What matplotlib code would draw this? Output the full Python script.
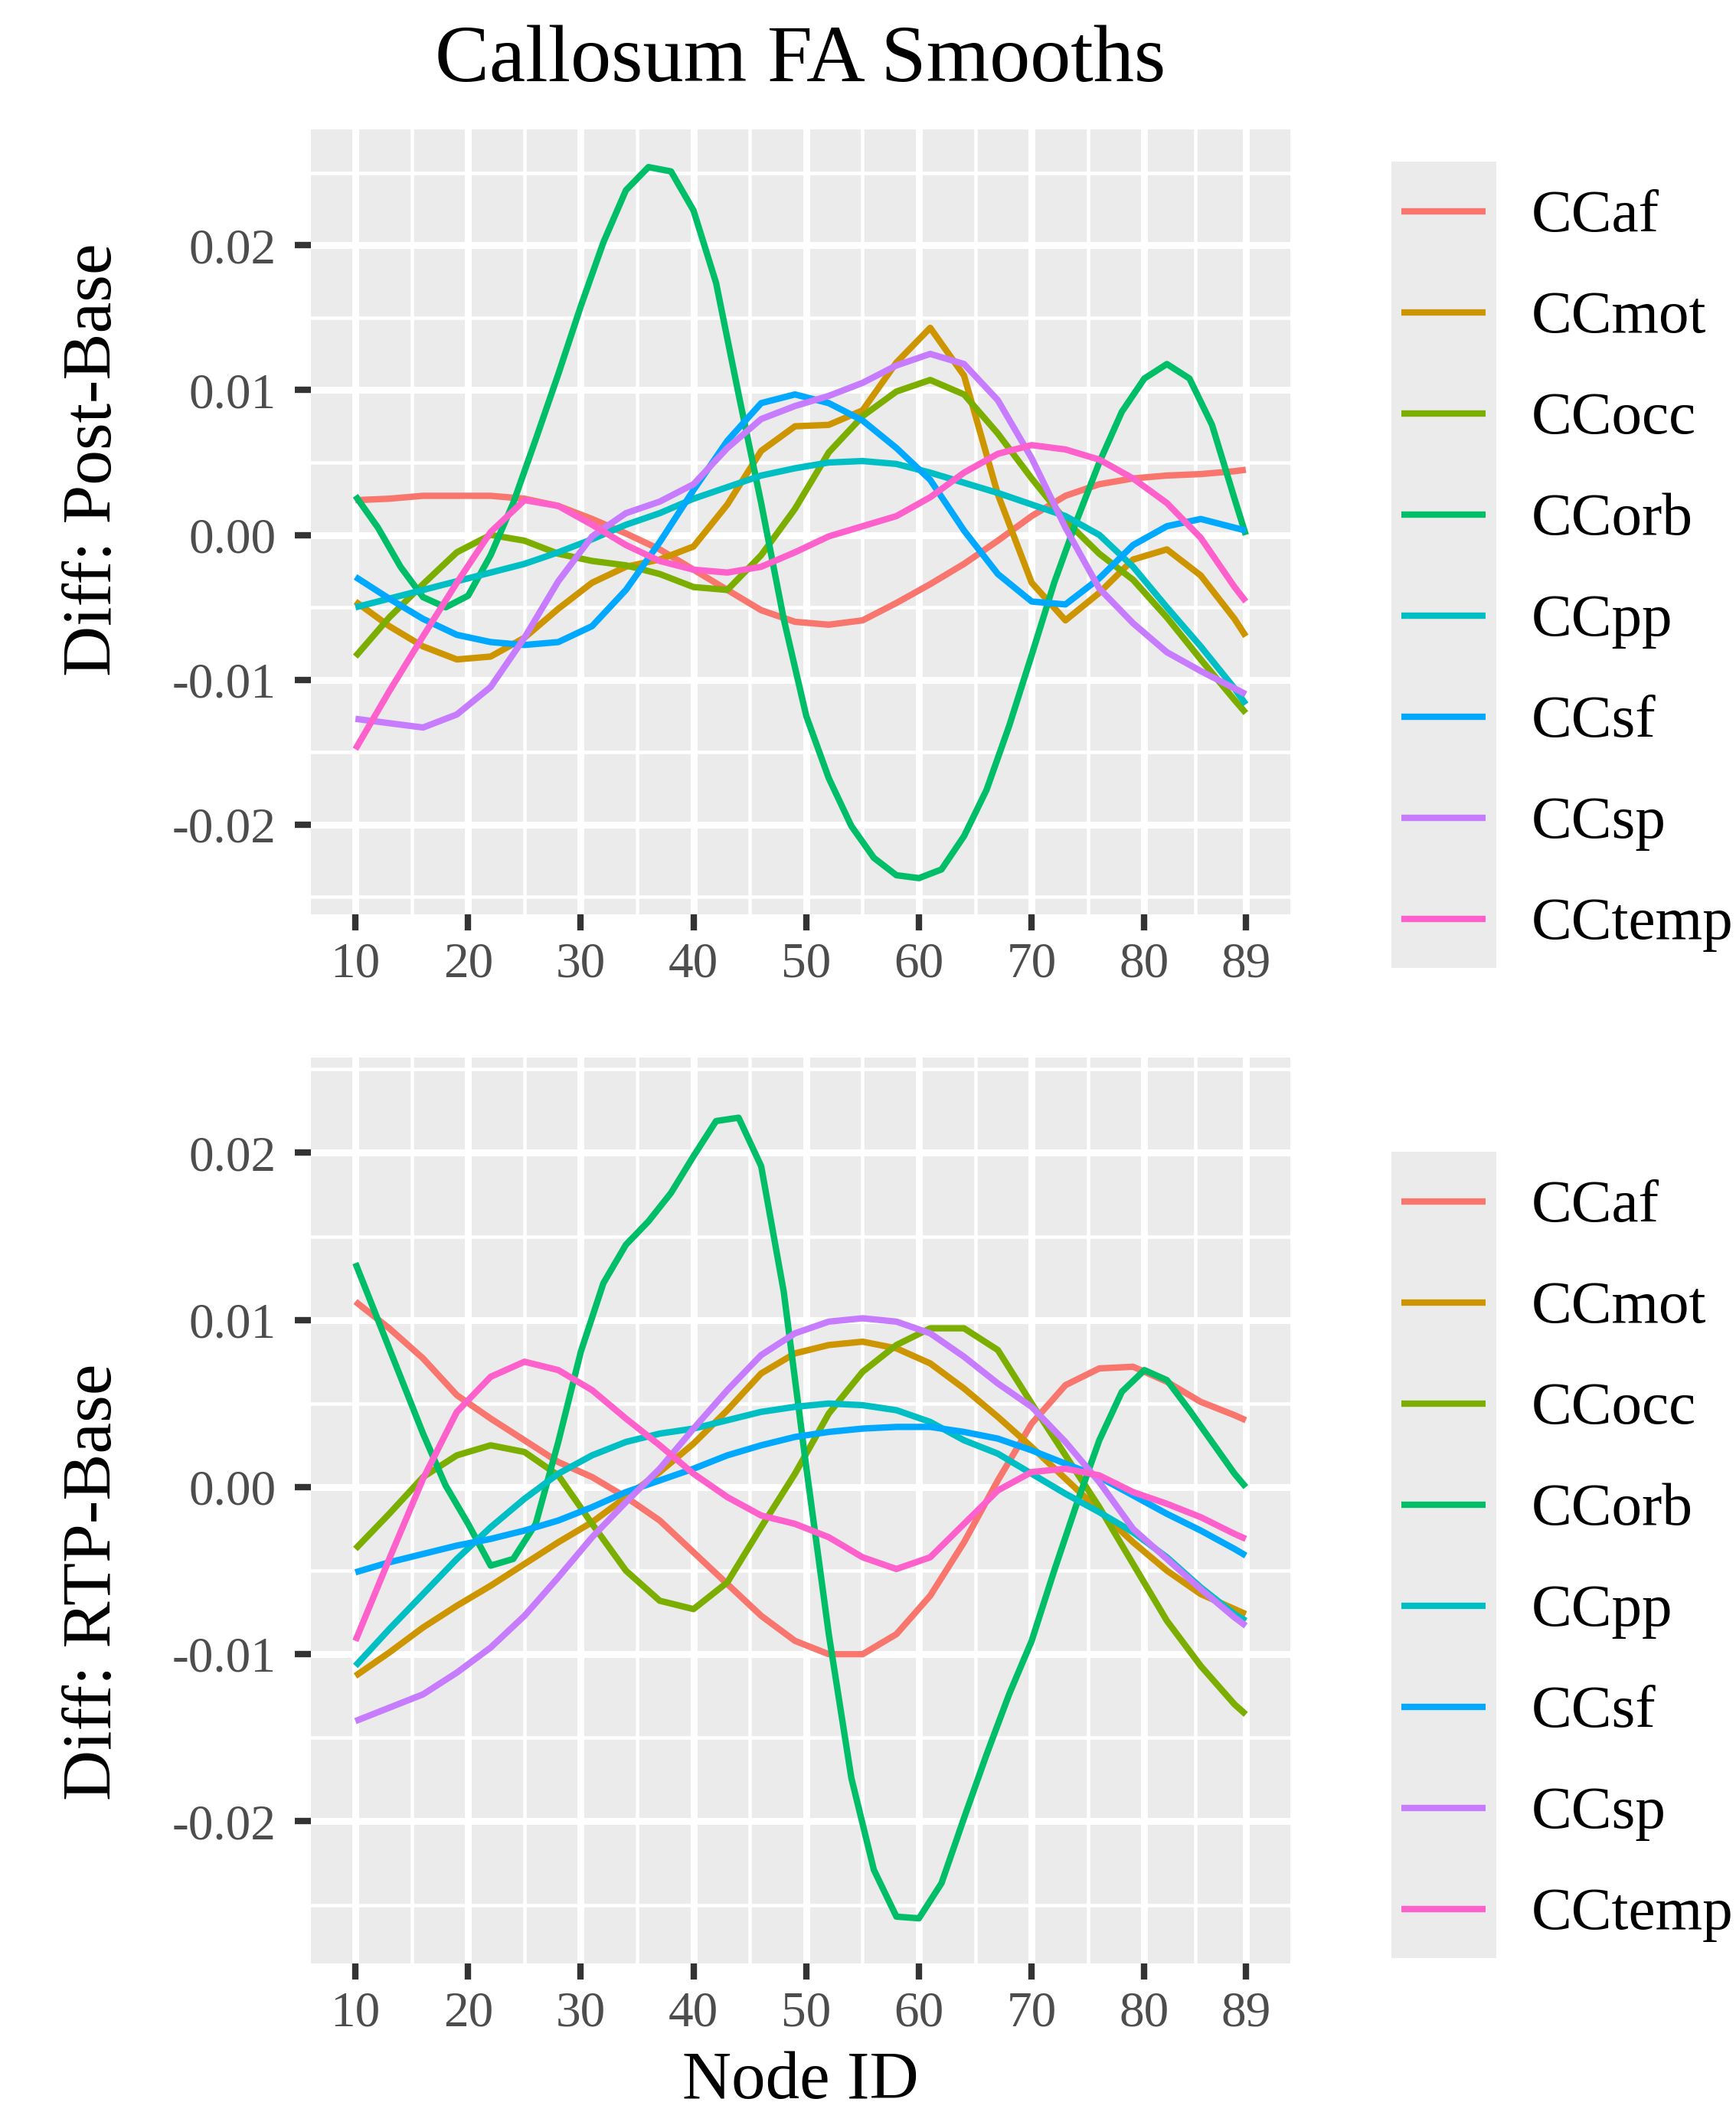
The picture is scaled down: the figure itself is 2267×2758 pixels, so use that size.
import matplotlib
matplotlib.use("Agg")
import matplotlib.pyplot as plt
from matplotlib.lines import Line2D
from matplotlib.patches import Rectangle

plt.rcParams["font.family"] = ["Liberation Serif", "DejaVu Serif"]

# node positions along the tract
nodes = [10, 13, 16, 19, 22, 25, 28, 31, 34, 37, 40, 43, 46, 49,
         52, 55, 58, 61, 64, 67, 70, 73, 76, 79, 82, 85, 88, 89]
orb_nodes = [10, 12, 14, 16, 18, 20, 22, 24, 26, 28, 30, 32, 34, 36, 38, 40, 42, 44, 46, 48,
             50, 52, 54, 56, 58, 60, 62, 64, 66, 68, 70, 72, 74, 76, 78, 80, 82, 84, 86, 88, 89]

tracts = ["CCaf", "CCmot", "CCocc", "CCorb", "CCpp", "CCsf", "CCsp", "CCtemp"]
tract_colors = ["#F8766D", "#CD9600", "#7CAE00", "#00BE67",
                "#00BFC4", "#00A9FF", "#C77CFF", "#FF61CC"]

# Diff: Post-Base
post_ccaf = [0.0024, 0.0025, 0.0027, 0.0027, 0.0027, 0.0025, 0.0020, 0.0011, 0.0001, -0.0010,
             -0.0024, -0.0038, -0.0052, -0.0060, -0.0062, -0.0059, -0.0047, -0.0034, -0.0020, -0.0004,
             0.0013, 0.0027, 0.0035, 0.0039, 0.0041, 0.0042, 0.0044, 0.0045]
post_ccmot = [-0.0046, -0.0063, -0.0077, -0.0086, -0.0084, -0.0071, -0.0051, -0.0033, -0.0022, -0.0017,
              -0.0008, 0.0021, 0.0058, 0.0075, 0.0076, 0.0086, 0.0119, 0.0143, 0.0110, 0.0028,
              -0.0033, -0.0059, -0.0040, -0.0017, -0.0010, -0.0028, -0.0058, -0.0070]
post_ccocc = [-0.0084, -0.0057, -0.0034, -0.0012, 0.0000, -0.0004, -0.0013, -0.0018, -0.0021, -0.0027,
              -0.0036, -0.0038, -0.0014, 0.0018, 0.0057, 0.0082, 0.0099, 0.0107, 0.0097, 0.0070,
              0.0039, 0.0010, -0.0013, -0.0031, -0.0057, -0.0086, -0.0114, -0.0123]
post_ccorb = [0.0027, 0.0005, -0.0022, -0.0043, -0.0050, -0.0042, -0.0014, 0.0022, 0.0066, 0.0111,
              0.0158, 0.0202, 0.0238, 0.0254, 0.0251, 0.0224, 0.0174, 0.0097, 0.0022, -0.0058,
              -0.0125, -0.0168, -0.0201, -0.0223, -0.0235, -0.0237, -0.0231, -0.0208, -0.0176, -0.0132,
              -0.0083, -0.0033, 0.0010, 0.0050, 0.0085, 0.0108, 0.0118, 0.0108, 0.0076, 0.0025, 0.0000]
post_ccpp = [-0.0050, -0.0044, -0.0038, -0.0032, -0.0026, -0.0020, -0.0012, -0.0003, 0.0007, 0.0015,
             0.0025, 0.0033, 0.0041, 0.0046, 0.0050, 0.0051, 0.0049, 0.0043, 0.0036, 0.0029,
             0.0021, 0.0013, 0.0000, -0.0022, -0.0050, -0.0077, -0.0106, -0.0117]
post_ccsf = [-0.0029, -0.0044, -0.0058, -0.0069, -0.0074, -0.0076, -0.0074, -0.0063, -0.0038, -0.0005,
             0.0031, 0.0065, 0.0091, 0.0097, 0.0091, 0.0079, 0.0060, 0.0038, 0.0003, -0.0027,
             -0.0046, -0.0048, -0.0030, -0.0007, 0.0006, 0.0011, 0.0005, 0.0003]
post_ccsp = [-0.0127, -0.0130, -0.0133, -0.0124, -0.0105, -0.0071, -0.0032, -0.0001, 0.0015, 0.0023,
             0.0035, 0.0060, 0.0080, 0.0089, 0.0096, 0.0105, 0.0117, 0.0125, 0.0118, 0.0093,
             0.0053, 0.0005, -0.0037, -0.0061, -0.0081, -0.0094, -0.0106, -0.0110]
post_cctemp = [-0.0148, -0.0108, -0.0070, -0.0033, 0.0002, 0.0024, 0.0020, 0.0007, -0.0007, -0.0018,
               -0.0024, -0.0026, -0.0022, -0.0012, -0.0001, 0.0006, 0.0013, 0.0026, 0.0043, 0.0056,
               0.0062, 0.0059, 0.0052, 0.0039, 0.0022, -0.0002, -0.0036, -0.0046]

# Diff: RTP-Base
rtp_ccaf = [0.0111, 0.0095, 0.0077, 0.0055, 0.0041, 0.0028, 0.0015, 0.0006, -0.0006, -0.0020,
            -0.0039, -0.0058, -0.0077, -0.0092, -0.0100, -0.0100, -0.0088, -0.0065, -0.0033, 0.0004,
            0.0038, 0.0061, 0.0071, 0.0072, 0.0063, 0.0051, 0.0043, 0.0040]
rtp_ccmot = [-0.0113, -0.0099, -0.0084, -0.0071, -0.0059, -0.0046, -0.0033, -0.0021, -0.0006, 0.0009,
             0.0026, 0.0046, 0.0068, 0.0080, 0.0085, 0.0087, 0.0083, 0.0074, 0.0059, 0.0042,
             0.0024, 0.0005, -0.0014, -0.0033, -0.0050, -0.0064, -0.0073, -0.0076]
rtp_ccocc = [-0.0037, -0.0016, 0.0006, 0.0019, 0.0025, 0.0021, 0.0007, -0.0022, -0.0050, -0.0068,
             -0.0073, -0.0057, -0.0024, 0.0008, 0.0044, 0.0069, 0.0085, 0.0095, 0.0095, 0.0082,
             0.0050, 0.0019, -0.0012, -0.0046, -0.0080, -0.0107, -0.0130, -0.0136]
rtp_ccorb = [0.0134, 0.0100, 0.0066, 0.0032, 0.0001, -0.0022, -0.0047, -0.0043, -0.0022, 0.0027,
             0.0081, 0.0122, 0.0145, 0.0159, 0.0176, 0.0198, 0.0219, 0.0221, 0.0192, 0.0117,
             0.0012, -0.0088, -0.0174, -0.0229, -0.0257, -0.0258, -0.0237, -0.0198, -0.0160, -0.0124,
             -0.0092, -0.0050, -0.0010, 0.0028, 0.0057, 0.0070, 0.0064, 0.0046, 0.0027, 0.0008, 0.0000]
rtp_ccpp = [-0.0107, -0.0085, -0.0064, -0.0043, -0.0024, -0.0007, 0.0008, 0.0019, 0.0027, 0.0032,
            0.0035, 0.0040, 0.0045, 0.0048, 0.0050, 0.0049, 0.0046, 0.0039, 0.0028, 0.0020,
            0.0008, -0.0004, -0.0015, -0.0027, -0.0042, -0.0060, -0.0076, -0.0080]
rtp_ccsf = [-0.0051, -0.0045, -0.0040, -0.0035, -0.0031, -0.0026, -0.0020, -0.0012, -0.0003, 0.0004,
            0.0011, 0.0019, 0.0025, 0.0030, 0.0033, 0.0035, 0.0036, 0.0036, 0.0033, 0.0029,
            0.0022, 0.0014, 0.0006, -0.0005, -0.0016, -0.0026, -0.0037, -0.0041]
rtp_ccsp = [-0.0140, -0.0132, -0.0124, -0.0111, -0.0096, -0.0077, -0.0054, -0.0030, -0.0009, 0.0011,
            0.0035, 0.0058, 0.0079, 0.0092, 0.0099, 0.0101, 0.0099, 0.0092, 0.0078, 0.0062,
            0.0048, 0.0027, 0.0003, -0.0025, -0.0043, -0.0061, -0.0078, -0.0083]
rtp_cctemp = [-0.0092, -0.0043, 0.0005, 0.0045, 0.0066, 0.0075, 0.0070, 0.0058, 0.0041, 0.0025,
              0.0008, -0.0006, -0.0017, -0.0022, -0.0030, -0.0042, -0.0049, -0.0042, -0.0022, -0.0002,
              0.0009, 0.0011, 0.0007, -0.0003, -0.0010, -0.0018, -0.0028, -0.0031]

post_series = [post_ccaf, post_ccmot, post_ccocc, post_ccorb,
               post_ccpp, post_ccsf, post_ccsp, post_cctemp]
rtp_series = [rtp_ccaf, rtp_ccmot, rtp_ccocc, rtp_ccorb,
              rtp_ccpp, rtp_ccsf, rtp_ccsp, rtp_cctemp]

x_ticks = [10, 20, 30, 40, 50, 60, 70, 80, 89]
x_tick_labels = ["10", "20", "30", "40", "50", "60", "70", "80", "89"]
x_minor = [15, 25, 35, 45, 55, 65, 75, 84.5]
y_ticks = [-0.02, -0.01, 0.0, 0.01, 0.02]
y_tick_labels = ["-0.02", "-0.01", "0.00", "0.01", "0.02"]
y_minor = [-0.025, -0.015, -0.005, 0.005, 0.015, 0.025]

W, H = 2267, 2758
PANEL_BG = "#EBEBEB"
LINE_W = 6.0


def style_panel(ax, ylim):
    ax.set_facecolor(PANEL_BG)
    for s in ax.spines.values():
        s.set_visible(False)
    ax.set_xlim(6.05, 92.95)
    ax.set_ylim(*ylim)
    ax.set_xticks(x_ticks)
    ax.set_xticklabels(x_tick_labels)
    ax.set_xticks(x_minor, minor=True)
    ax.set_yticks(y_ticks)
    ax.set_yticklabels(y_tick_labels)
    ax.set_yticks(y_minor, minor=True)
    ax.set_axisbelow(True)
    ax.grid(which="major", color="white", linewidth=6.5)
    ax.grid(which="minor", color="white", linewidth=3.3)
    ax.tick_params(which="major", length=15, width=6.0, color="#333333",
                   labelcolor="#4D4D4D", labelsize=47)
    ax.tick_params(axis="x", which="major", pad=11)
    ax.tick_params(axis="y", which="major", pad=18)
    ax.tick_params(which="minor", length=0)


def plot_panel(ax, series):
    for name, vals, col in zip(tracts, series, tract_colors):
        xs = orb_nodes if name == "CCorb" else nodes
        ax.plot(xs, vals, color=col, linewidth=LINE_W,
                solid_capstyle="butt", solid_joinstyle="round")


def draw_legend(fig, box_top_px):
    box_h = 1053
    fig.add_artist(Rectangle((1817 / W, 1 - (box_top_px + box_h) / H),
                             (1954 - 1817) / W, box_h / H,
                             transform=fig.transFigure, facecolor=PANEL_BG,
                             edgecolor="none"))
    fs = 57
    cap_half = 0.662 * fs * 100 / 72 / 2
    for i, (name, col) in enumerate(zip(tracts, tract_colors)):
        ky = box_top_px + 65 + i * 132
        fig.add_artist(Line2D([1830 / W, 1940 / W], [1 - ky / H, 1 - ky / H],
                              transform=fig.transFigure, color=col,
                              linewidth=LINE_W, solid_capstyle="butt"))
        fig.text(2000 / W, 1 - (ky + cap_half) / H, name, fontsize=fs,
                 ha="left", va="baseline", color="black")


fig = plt.figure(figsize=(W / 100, H / 100), dpi=100)

ax_top = fig.add_axes([406 / W, 1 - 1194 / H, 1279 / W, 1025 / H])
ax_bot = fig.add_axes([406 / W, 1 - 2564 / H, 1279 / W, 1183 / H])

plot_panel(ax_top, post_series)
plot_panel(ax_bot, rtp_series)

style_panel(ax_top, (-0.0262, 0.0280))
style_panel(ax_bot, (-0.0285, 0.0257))

draw_legend(fig, 211)
draw_legend(fig, 1504)

fig.text(1045 / W, 1 - 106 / H, "Callosum FA Smooths", fontsize=76.5,
         ha="center", va="baseline")
fig.text(1045 / W, 1 - 2740 / H, "Node ID", fontsize=64,
         ha="center", va="baseline")
fig.text(0.054, 0.7822, "Diff: Post-Base", fontsize=66, rotation=90,
         ha="center", va="center")
fig.text(0.054, 0.2508, "Diff: RTP-Base", fontsize=66, rotation=90,
         ha="center", va="center")

fig.savefig("out.png", dpi=100, facecolor="white")
